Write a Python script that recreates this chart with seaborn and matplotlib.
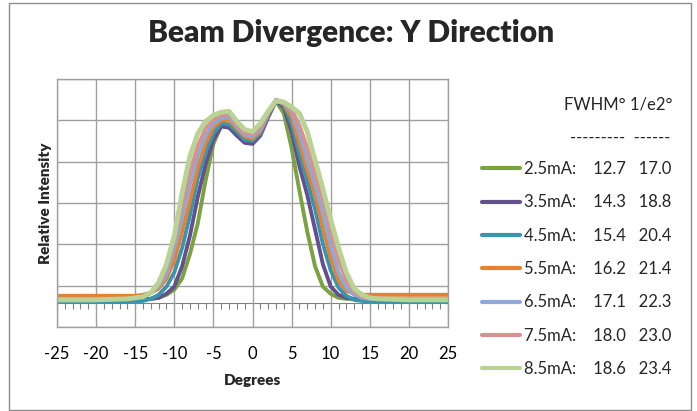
import numpy as np
import pandas as pd
import matplotlib
matplotlib.use("Agg")
import matplotlib.pyplot as plt
from matplotlib.patches import Rectangle
import seaborn as sns

# ── data ──────────────────────────────────────────────────────────────────────
degrees = [-25, -20, -16, -15, -14, -13, -12, -11, -10, -9, -8, -7, -6, -5, -4,
           -3, -2, -1, 0, 1, 2, 3, 4, 5, 6, 7, 8, 9, 10, 11, 12, 13, 14, 15,
           16, 20, 25]

i_2p5 = [0.015, 0.015, 0.015, 0.015, 0.02, 0.02, 0.025, 0.04, 0.065, 0.12, 0.24,
         0.39, 0.60, 0.78, 0.87, 0.86, 0.83, 0.795, 0.79, 0.83, 0.92, 0.99, 0.93,
         0.76, 0.55, 0.35, 0.18, 0.08, 0.045, 0.025, 0.02, 0.02, 0.02, 0.02,
         0.02, 0.02, 0.02]
i_3p5 = [0.015, 0.015, 0.015, 0.015, 0.02, 0.02, 0.025, 0.045, 0.08, 0.18, 0.33,
         0.52, 0.68, 0.80, 0.865, 0.86, 0.82, 0.785, 0.78, 0.82, 0.91, 0.99, 0.96,
         0.84, 0.67, 0.53, 0.36, 0.19, 0.08, 0.04, 0.025, 0.02, 0.02, 0.02,
         0.02, 0.02, 0.02]
i_4p5 = [0.005, 0.005, 0.005, 0.005, 0.01, 0.02, 0.04, 0.08, 0.15, 0.27, 0.43,
         0.61, 0.74, 0.83, 0.88, 0.875, 0.84, 0.80, 0.795, 0.83, 0.92, 0.995, 0.97,
         0.88, 0.73, 0.60, 0.46, 0.29, 0.16, 0.075, 0.035, 0.015, 0.01, 0.005,
         0.005, 0.005, 0.005]
i_5p5 = [0.035, 0.035, 0.035, 0.035, 0.04, 0.05, 0.07, 0.12, 0.21, 0.35, 0.50,
         0.66, 0.78, 0.86, 0.895, 0.895, 0.855, 0.815, 0.805, 0.84, 0.925, 0.995,
         0.975, 0.91, 0.78, 0.65, 0.53, 0.37, 0.22, 0.11, 0.06, 0.045, 0.04, 0.04,
         0.04, 0.04, 0.04]
i_6p5 = [0.02, 0.02, 0.02, 0.025, 0.03, 0.05, 0.08, 0.14, 0.27, 0.42, 0.58,
         0.72, 0.82, 0.88, 0.905, 0.91, 0.865, 0.825, 0.815, 0.85, 0.93, 0.995,
         0.98, 0.935, 0.83, 0.70, 0.58, 0.44, 0.28, 0.15, 0.075, 0.04, 0.025, 0.02,
         0.02, 0.02, 0.02]
i_7p5 = [0.02, 0.02, 0.02, 0.025, 0.03, 0.05, 0.09, 0.17, 0.31, 0.48, 0.64,
         0.77, 0.855, 0.90, 0.92, 0.925, 0.875, 0.835, 0.825, 0.865, 0.935, 0.995,
         0.985, 0.95, 0.87, 0.76, 0.63, 0.51, 0.35, 0.21, 0.11, 0.055, 0.03, 0.025,
         0.02, 0.02, 0.02]
i_8p5 = [0.015, 0.015, 0.02, 0.025, 0.03, 0.05, 0.10, 0.19, 0.33, 0.54, 0.72,
         0.83, 0.89, 0.92, 0.935, 0.94, 0.89, 0.85, 0.84, 0.88, 0.94, 0.99, 0.985,
         0.96, 0.93, 0.84, 0.70, 0.56, 0.41, 0.27, 0.15, 0.07, 0.04, 0.025,
         0.02, 0.015, 0.015]

currents = ["2.5mA:", "3.5mA:", "4.5mA:", "5.5mA:", "6.5mA:", "7.5mA:", "8.5mA:"]
fwhm = ["12.7", "14.3", "15.4", "16.2", "17.1", "18.0", "18.6"]
e2 = ["17.0", "18.8", "20.4", "21.4", "22.3", "23.0", "23.4"]
colors = ["#7AA23F", "#64508C", "#3795AE", "#E6812F", "#8EA9D6", "#D7918F", "#B8D393"]

series = [i_2p5, i_3p5, i_4p5, i_5p5, i_6p5, i_7p5, i_8p5]
labels = [f"{c}    {f}   {e}" for c, f, e in zip(currents, fwhm, e2)]

df = pd.concat(
    [pd.DataFrame({"deg": degrees, "intensity": vals, "label": lab})
     for vals, lab in zip(series, labels)],
    ignore_index=True,
)

# ── figure ────────────────────────────────────────────────────────────────────
sns.set_style("white")
plt.rcParams["font.family"] = ["Lato", "DejaVu Sans"]
plt.rcParams["axes.unicode_minus"] = False

W, H = 697, 411
fig = plt.figure(figsize=(W / 100, H / 100), dpi=100)
ax = fig.add_axes([57 / W, 1 - 327 / H, 391 / W, 248 / H])

sns.lineplot(data=df, x="deg", y="intensity", hue="label", hue_order=labels,
             palette=colors, linewidth=2.8, errorbar=None, sort=True, ax=ax)
ax.lines[len(labels) - 1].set_linewidth(3.5)

ylo, yhi = -0.118, 1.098
ax.set_xlim(-25, 25)
ax.set_ylim(ylo, yhi)
ax.set_xticks(range(-25, 26, 5))
ax.set_yticks(np.linspace(ylo, yhi, 7))
ax.set_yticklabels([])
ax.tick_params(axis="both", length=0, labelsize=12, colors="black")
ax.tick_params(axis="x", pad=14)
ax.grid(True, color="#A0A0A0", linewidth=1)
ax.set_axisbelow(True)
for sp in ax.spines.values():
    sp.set_color("#A0A0A0")
    sp.set_linewidth(1)

# horizontal axis line through zero with minor ticks
zero_frac = (0 - ylo) / (yhi - ylo)
sec = ax.secondary_xaxis(zero_frac)
sec.set_xticks(range(-25, 26, 1))
sec.set_xticklabels([])
sec.tick_params(length=4, width=0.8, color="#808080", direction="out")
sec.spines["bottom"].set_color("#808080")
sec.spines["bottom"].set_linewidth(0.8)

ax.set_xlabel("Degrees", fontsize=11, fontweight="heavy")
ax.xaxis.set_label_coords(0.5, -0.19)
ax.set_ylabel("Relative Intensity", fontsize=11, fontweight="heavy")
ax.yaxis.set_label_coords(-0.012, 0.5)

fig.text(0.503, 1 - 33 / H, "Beam Divergence: Y Direction", ha="center",
         va="center", fontsize=21.5, fontweight="heavy")

# legend with table columns
leg = ax.legend(loc="upper left", bbox_to_anchor=(482 / W, 1 - 161 / H),
                bbox_transform=fig.transFigure, frameon=False, fontsize=12,
                handlelength=2.3, handletextpad=0.2, labelspacing=1.04,
                borderaxespad=0, borderpad=0)
for line in leg.get_lines():
    line.set_linewidth(3)

fig.text(672 / W, 1 - 104 / H, "FWHM° 1/e2°", ha="right", va="center",
         fontsize=12)
fig.text(670 / W, 1 - 138 / H, "---------  ------", ha="right", va="center",
         fontsize=12)

# outer chart border
fig.patches.append(Rectangle((9 / W, 1 - 410 / H), 682 / W, 407 / H,
                             transform=fig.transFigure, fill=False,
                             edgecolor="#8C8C8C", linewidth=1))

fig.savefig("out.png", dpi=100)
